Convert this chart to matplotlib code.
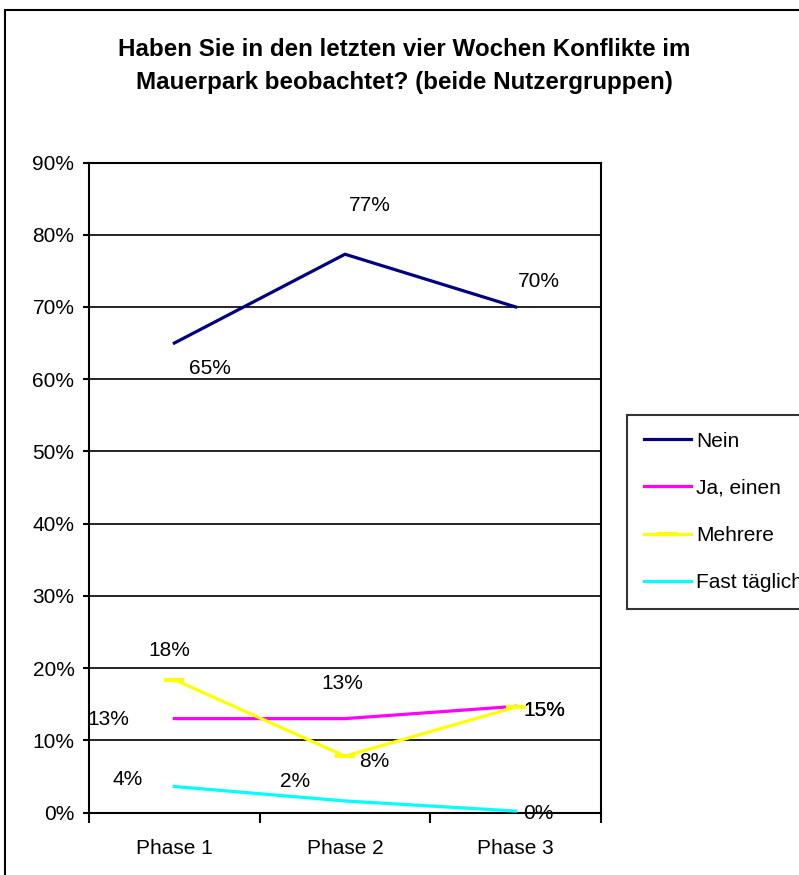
import numpy as np
import matplotlib.pyplot as plt
from matplotlib.patches import Rectangle

plt.rcParams['font.family'] = ['Liberation Sans', 'DejaVu Sans']

# Daten
phasen = ['Phase 1', 'Phase 2', 'Phase 3']
nein = [65.0, 77.3, 70.0]
ja_einen = [13.0, 13.0, 14.7]
mehrere = [18.4, 7.8, 14.6]
fast_taeglich = [3.6, 1.6, 0.2]
reihen_namen = ['Nein', 'Ja, einen', 'Mehrere', 'Fast täglich']
y_ticks = [0, 10, 20, 30, 40, 50, 60, 70, 80, 90]

farben = ['#000080', '#FF00FF', '#FFFF00', '#00FFFF']
# Versatz der Datenbeschriftungen (Pixel, y nach oben)
versatz = [
    [(36, -25), (25, 49), (23, 25)],
    [(-66, -1), (-3, 35), (29, -4)],
    [(-5, 29), (29, -5), (29, -3)],
    [(-47, 7), (-50, 19), (23, -2)],
]

W, H = 799, 875
fig = plt.figure(figsize=(W / 100, H / 100), dpi=100)
# Rahmen um das Diagramm (rechts und unten abgeschnitten)
fig.patches.append(Rectangle((5 / W, -0.1), 1.2, 1 - 10 / H + 0.1, transform=fig.transFigure,
                             fill=False, edgecolor='black', linewidth=1.5))

ax = fig.add_axes([89 / W, (H - 812.5) / H, 512 / W, 650 / H])
x = np.arange(len(phasen))
reihen = [nein, ja_einen, mehrere, fast_taeglich]

linien = []
for i, (werte, name, farbe) in enumerate(zip(reihen, reihen_namen, farben)):
    if name == 'Mehrere':
        ln, = ax.plot(x, werte, color=farbe, linewidth=2.3, marker='_', markersize=14,
                      markeredgewidth=3, label=name, zorder=3)
    else:
        ln, = ax.plot(x, werte, color=farbe, linewidth=2.3, label=name, zorder=3)
    linien.append(ln)
    for j, v in enumerate(werte):
        ax.annotate(f"{v:.0f}%", (x[j], v), xytext=versatz[i][j], textcoords='offset pixels',
                    ha='center', va='center', fontsize=15, zorder=4, annotation_clip=False)

ax.set_xlim(-0.5, 2.5)
ax.set_ylim(0, 90)
ax.set_yticks(y_ticks)
ax.set_yticklabels([f"{t}%" for t in y_ticks])
ax.yaxis.grid(True, color='black', linewidth=1.2)
ax.set_axisbelow(True)
ax.set_xticks([-0.5, 0.5, 1.5, 2.5])
ax.set_xticklabels([])
ax.set_xticks(x, minor=True)
ax.set_xticklabels(phasen, minor=True)
ax.tick_params(axis='x', which='minor', length=0, pad=19, labelsize=15)
ax.tick_params(axis='x', which='major', length=7, width=1.5)
ax.tick_params(axis='y', length=4.5, width=1.5, labelsize=15, pad=6)
for s in ax.spines.values():
    s.set_linewidth(1.5)

fig.text(404 / W, 1 - 38 / H,
         "Haben Sie in den letzten vier Wochen Konflikte im\nMauerpark beobachtet? (beide Nutzergruppen)",
         ha='center', va='top', fontsize=17.4, fontweight='bold', linespacing=1.55)

leg = ax.legend(handles=linien, loc='upper left', bbox_to_anchor=(627 / W, (H - 415) / H),
                bbox_transform=fig.transFigure, frameon=True, fancybox=False, edgecolor='black',
                fontsize=15, handlelength=2.26, handletextpad=0.24,
                labelspacing=1.35, borderpad=0.8, borderaxespad=0)
leg.get_frame().set_linewidth(1.5)

fig.savefig('out.png', dpi=100)
